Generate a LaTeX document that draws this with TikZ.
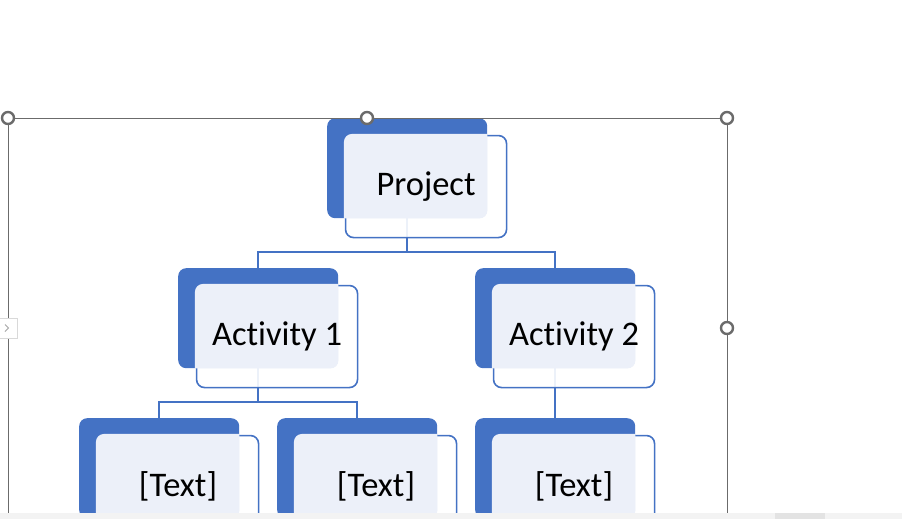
\documentclass[tikz,border=0pt]{standalone}
\usepackage{fontspec}
\setmainfont{Carlito}[Ligatures=NoCommon]
\definecolor{smblue}{HTML}{4472C4}
\definecolor{smlite}{HTML}{ECF0F9}
\definecolor{selgray}{HTML}{6B6B6B}
\definecolor{bargray}{HTML}{F3F3F3}

\begin{document}
\begin{tikzpicture}[x=1pt,y=-1pt,
  back/.style={fill=smblue,rounded corners=8pt,minimum width=160pt,minimum height=100pt,inner sep=0pt,anchor=north west},
  front/.style={draw=smblue,fill=white,fill opacity=.9,line width=1.6pt,rounded corners=8pt,minimum width=161pt,minimum height=102pt,inner sep=0pt,anchor=north west},
  word/.style={font=\fontsize{34.5}{40}\selectfont},
  link/.style={draw=smblue,line width=2pt},
  handle/.style={circle,draw=selgray,line width=2.4pt,fill=white,minimum size=12pt,inner sep=0pt}]
\useasboundingbox (0,0) rectangle (902,519);
\clip (0,0) rectangle (902,519);

\node[back] (pb) at (327,118) {};
\node[back] (a1b) at (178,268) {};
\node[back] (a2b) at (475,268) {};
\node[back] (t1b) at (79,418) {};
\node[back] (t2b) at (277,418) {};
\node[back] (t3b) at (475,418) {};

\draw[link] (pb.south) -- ++(0,34) -| (a1b.north);
\draw[link] (pb.south) -- ++(0,34) -| (a2b.north);
\draw[link] (a1b.south) -- ++(0,34) -| (t1b.north);
\draw[link] (a1b.south) -- ++(0,34) -| (t2b.north);
\draw[link] (a2b.south) -- (t3b.north);

\node[front] (p) at (344.75,134.75) {};
\node[front] (a1) at (195.75,284.75) {};
\node[front] (a2) at (492.75,284.75) {};
\node[front] (t1) at (96.75,434.75) {};
\node[front] (t2) at (294.75,434.75) {};
\node[front] (t3) at (492.75,434.75) {};

\begin{scope}\clip[rounded corners=8pt] (pb.north west) rectangle (pb.south east);
\fill[smlite,rounded corners=8pt] ([shift={(-.8,-.8)}]p.north west) rectangle ([shift={(.8,.8)}]p.south east);\end{scope}
\begin{scope}\clip[rounded corners=8pt] (a1b.north west) rectangle (a1b.south east);
\fill[smlite,rounded corners=8pt] ([shift={(-.8,-.8)}]a1.north west) rectangle ([shift={(.8,.8)}]a1.south east);\end{scope}
\begin{scope}\clip[rounded corners=8pt] (a2b.north west) rectangle (a2b.south east);
\fill[smlite,rounded corners=8pt] ([shift={(-.8,-.8)}]a2.north west) rectangle ([shift={(.8,.8)}]a2.south east);\end{scope}
\begin{scope}\clip[rounded corners=8pt] (t1b.north west) rectangle (t1b.south east);
\fill[smlite,rounded corners=8pt] ([shift={(-.8,-.8)}]t1.north west) rectangle ([shift={(.8,.8)}]t1.south east);\end{scope}
\begin{scope}\clip[rounded corners=8pt] (t2b.north west) rectangle (t2b.south east);
\fill[smlite,rounded corners=8pt] ([shift={(-.8,-.8)}]t2.north west) rectangle ([shift={(.8,.8)}]t2.south east);\end{scope}
\begin{scope}\clip[rounded corners=8pt] (t3b.north west) rectangle (t3b.south east);
\fill[smlite,rounded corners=8pt] ([shift={(-.8,-.8)}]t3.north west) rectangle ([shift={(.8,.8)}]t3.south east);\end{scope}

\node[word] (pt) at (p.center) {Project};
\node[word] (a1t) at (a1.center) {Activity 1};
\node[word] (a2t) at (a2.center) {Activity 2};
\node[word] (t1t) at (t1.center) {[Text]};
\node[word] (t2t) at (t2.center) {[Text]};
\node[word] (t3t) at (t3.center) {[Text]};

\draw[selgray,line width=1pt] (8,118) rectangle (727,560);
\node[handle] (h1) at (8,118) {};
\node[handle] (h2) at (367,118) {};
\node[handle] (h3) at (727,118) {};
\node[handle] (h4) at (727,328) {};

\draw[gray!30,fill=white] (-1,318) rectangle (17,338);
\draw[gray!70,line width=1pt] (5,324.5) -- (8.5,328) -- (5,331.5);

\fill[bargray] (0,512.5) rectangle (902,519);
\fill[gray!22] (775,512.5) rectangle (825,519);
\end{tikzpicture}
\end{document}
